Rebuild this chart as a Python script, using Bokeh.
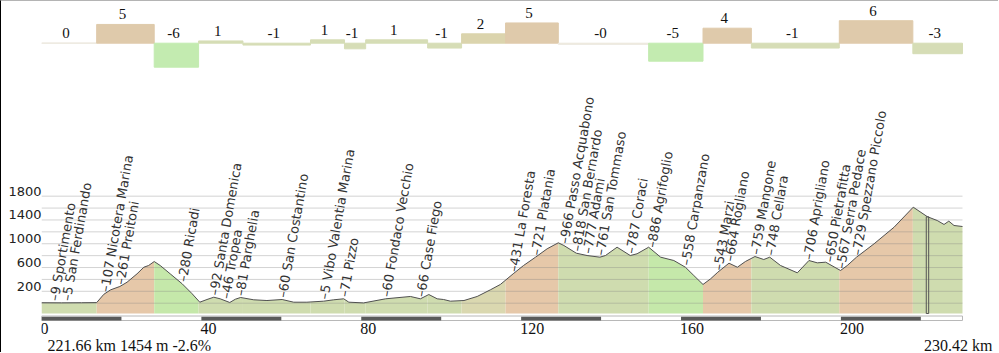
import numpy as np
from bokeh.plotting import figure
from bokeh.models import Range1d, LinearAxis, FixedTicker
from bokeh.core.properties import value
from bokeh.embed import file_html
from bokeh.resources import INLINE

# ---------------- data ----------------
profile_km = [0, 5, 10, 13.8, 15.6, 17.3, 19.6, 21.4, 23.9, 25.6, 26.8, 28.2, 29.7, 32.2,
              35.2, 37.7, 39.6, 41.4, 43.1, 44.7, 47.1, 48.5, 49.8, 53.1, 56.4, 60.2, 63.1,
              66.4, 70.6, 73.1, 75.6, 76.9, 80.6, 86.1, 92.3, 94.8, 96.9, 99.0, 100.6, 102.3,
              105.7, 109.0, 112.3, 114.8, 118.0, 120.6, 123.6, 126.5, 129.3, 130.7, 133.8,
              136.5, 139.7, 141.1, 144.0, 147.3, 149.0, 151.9, 154.9, 158.2, 161.1, 163.2,
              165.5, 167.4, 169.2, 172.0, 174.1, 176.1, 178.5, 180.7, 182.2, 184.9, 189.1,
              192.0, 194.1, 196.2, 199.9, 201.6, 203.9, 208.3, 213.3, 218.1, 221.66, 224.1,
              225.8, 227.0, 228.3, 230.42]
profile_elev = [8, 6, 8, 10, 150, 225, 281, 353, 494, 605, 634, 701, 634, 494,
                326, 158, 17, 62, 101, 74, 12, 67, 96, 57, 45, 62, 17,
                17, 34, 57, 74, 17, 5, 74, 113, 74, 146, 74, 62, 34,
                45, 113, 225, 315, 494, 634, 774, 915, 1016, 970, 841,
                802, 774, 802, 942, 802, 831, 942, 774, 718, 605, 466,
                315, 410, 521, 673, 605, 701, 785, 735, 774, 634, 511,
                718, 679, 690, 550, 634, 774, 999, 1278, 1615, 1454, 1391,
                1324, 1380, 1307, 1290]

seg_start_km = [0, 13.8, 28.2, 39.3, 50.4, 67.3, 75.8, 81.1, 96.6, 105.1, 116.1,
                129.3, 151.9, 165.5, 177.6, 199.6, 218.0]
seg_grade = [0.05, 5.0, -6.4, 0.6, -0.5, 0.9, -1.5, 0.9, -1.3, 2.5, 5.4,
             -0.3, -4.8, 4.0, -1.3, 6.0, -2.8]
seg_grade_label = ["0", "5", "-6", "1", "-1", "1", "-1", "1", "-1", "2", "5",
                   "-0", "-5", "4", "-1", "6", "-3"]

place_km = [3.1, 6.2, 15.8, 19.6, 35.2, 43.1, 46.0, 49.6, 60.2, 70.6, 75.6, 86.1, 94.8,
            118.0, 123.6, 130.7, 133.8, 136.5, 139.7, 147.3, 152.6, 161.1, 169.2, 172.0,
            178.5, 182.2, 191.7, 197.0, 199.9, 203.9]
place_elev = [9, 5, 107, 261, 280, 92, 46, 81, 60, 5, 71, 60, 66,
              431, 721, 966, 818, 777, 761, 787, 886, 558, 543, 664,
              759, 748, 706, 650, 567, 729]
place_name = ["Sportimento", "San Ferdinando", "Nicotera Marina", "Preitoni", "Ricadi",
              "Santa Domenica", "Tropea", "Parghelia", "San Costantino",
              "Vibo Valentia Marina", "Pizzo", "Fondaco Vecchio", "Case Fiego",
              "La Foresta", "Platania", "Passo Acquabono", "San Bernardo", "Adami",
              "San Tommaso", "Coraci", "Agrifoglio", "Carpanzano", "Marzi", "Rogliano",
              "Mangone", "Cellara", "Aprigliano", "Pietrafitta", "Serra Pedace",
              "Spezzano Piccolo"]

y_tick_vals = [200, 600, 1000, 1400, 1800]
grid_vals = [0, 200, 400, 600, 800, 1000, 1200, 1400, 1600, 1800]
x_tick_vals = [0, 40, 80, 120, 160, 200]
scale_step_km = 20

total_km = 230.42
cursor_km = 221.66
cursor_elev = 1454
cursor_grade = -2.6

# ---------------- layout constants (page pixels) ----------------
PAGE_W, PAGE_H = 999, 353
BORDER = 1                      # 1px frame line on the left and top of the page
W, H = PAGE_W - BORDER, PAGE_H - BORDER
LEFT = 41 - BORDER
PX_PER_KM = 3.997
Y0_PX = 302.7 - BORDER          # canvas row of 0 m
M_PER_PX = 16.82
G0_PX = 42.7 - BORDER           # canvas row of 0 % in the gradient strip
PX_PER_PCT = 3.75


def px_to_elev(py_page):
    return (Y0_PX - (py_page - BORDER)) * M_PER_PX


x_end = (W - LEFT) / PX_PER_KM
ylo, yhi = (Y0_PX - H) * M_PER_PX, Y0_PX * M_PER_PX
glo, ghi = -(H - G0_PX) / PX_PER_PCT, G0_PX / PX_PER_PCT
fill_bottom = px_to_elev(313)


def colors_for(g):
    # (bar colour, profile fill colour)
    if g >= 3:
        return "#dfcaab", "#e6c8a9"
    if g <= -3:
        return "#c3ebb0", "#c5e8aa"
    if g >= 2:
        return "#dbd4ad", "#dad8b0"
    if abs(g) < 0.35:
        return "#ece8de", "#cfdcaf"
    return "#d6ddb6", "#cfdcaf"


p = figure(width=W, height=H, x_range=Range1d(0, x_end), y_range=Range1d(ylo, yhi),
           output_backend="svg", toolbar_location=None,
           x_axis_location=None, y_axis_location=None,
           min_border_left=LEFT, min_border_right=0, min_border_top=0, min_border_bottom=0)
p.outline_line_color = None
p.xgrid.visible = False
p.ygrid.visible = False
p.background_fill_color = "white"
p.border_fill_color = "white"
p.styles = {"border-left": "1px solid #000000", "border-top": "1px solid #b4b4b4"}
p.extra_y_ranges = {"grade": Range1d(glo, ghi)}

seg_end_km = seg_start_km[1:] + [total_km]

# profile fills per gradient segment
km = np.array(profile_km, dtype=float)
el = np.array(profile_elev, dtype=float)
for s, e, g in zip(seg_start_km, seg_end_km, seg_grade):
    inner = km[(km > s) & (km < e)]
    xs = np.concatenate([[s], inner, [e]])
    ys = np.interp(xs, km, el)
    p.varea(x=xs, y1=fill_bottom, y2=ys, fill_color=colors_for(g)[1])

# grid lines
p.segment(x0=[0] * len(grid_vals), x1=[total_km] * len(grid_vals), y0=grid_vals, y1=grid_vals,
          line_color="#808080", line_alpha=0.35, line_width=1)

# profile line
p.line(profile_km, profile_elev, line_color="#505050", line_width=1)

# cursor
p.quad(left=[cursor_km - 0.3], right=[cursor_km + 0.3], bottom=[fill_bottom], top=[cursor_elev],
       fill_alpha=0, line_color="#555555", line_width=1)

# gradient strip
bar_cols = [colors_for(g)[0] for g in seg_grade]
p.quad(left=seg_start_km, right=seg_end_km, bottom=[0] * len(seg_grade), top=seg_grade,
       fill_color=bar_cols, line_color=bar_cols, line_width=1, y_range_name="grade")
mids = [(a + b) / 2 for a, b in zip(seg_start_km, seg_end_km)]
p.text(x=mids, y=[max(g, 0) for g in seg_grade], text=seg_grade_label, y_range_name="grade",
       text_align="center", text_baseline="bottom", y_offset=-5, x_offset=-3,
       text_font=value("Liberation Serif"), text_font_size="15px", text_color="#111111")

# place labels
label_y = np.interp(place_km, km, el)
p.text(x=place_km, y=label_y, text=["\u2013" + f"{e} {n}" for e, n in zip(place_elev, place_name)],
       angle=80, angle_units="deg", text_align="left", text_baseline="middle", y_offset=-2,
       text_font=value("DejaVu Sans"), text_font_size="13px", text_color="#333333")

# distance scale bar
p.quad(left=[0], right=[total_km], bottom=[px_to_elev(320)], top=[px_to_elev(315.5)],
       fill_color="white", line_color="#b8b8b8", line_width=1)
dark_starts = np.arange(0, total_km, 2 * scale_step_km)
p.quad(left=dark_starts, right=np.minimum(dark_starts + scale_step_km, total_km),
       bottom=px_to_elev(320), top=px_to_elev(316.3), fill_color="#5a5a5a", line_color=None)

# distance tick labels
p.text(x=x_tick_vals, y=px_to_elev(322), text=[str(v) for v in x_tick_vals],
       text_align="left", text_baseline="top", x_offset=-1,
       text_font=value("Liberation Serif"), text_font_size="16px", text_color="#111111")

# cursor readout and total distance
p.text(x=[0], y=[px_to_elev(336)], text=[f"{cursor_km} km {cursor_elev} m {cursor_grade}%"],
       text_align="left", text_baseline="top", x_offset=6,
       text_font=value("Liberation Serif"), text_font_size="16px", text_color="#111111")
p.text(x=[total_km], y=[px_to_elev(336)], text=[f"{total_km} km"],
       text_align="right", text_baseline="top", x_offset=30,
       text_font=value("Liberation Serif"), text_font_size="16px", text_color="#111111")

# elevation axis (labels sit just above their grid line)
lift = 85
yax = LinearAxis(ticker=FixedTicker(ticks=[v + lift for v in y_tick_vals]),
                 major_label_overrides={v + lift: str(v) for v in y_tick_vals})
yax.axis_line_color = None
yax.major_tick_line_color = None
yax.minor_tick_line_color = None
yax.major_tick_in = 0
yax.major_tick_out = 0
yax.major_label_standoff = 0
yax.major_label_text_font = "DejaVu Sans"
yax.major_label_text_font_size = "13px"
yax.major_label_text_color = "#222222"
p.add_layout(yax, "left")

open("out.html", "w").write(file_html(p, INLINE))
